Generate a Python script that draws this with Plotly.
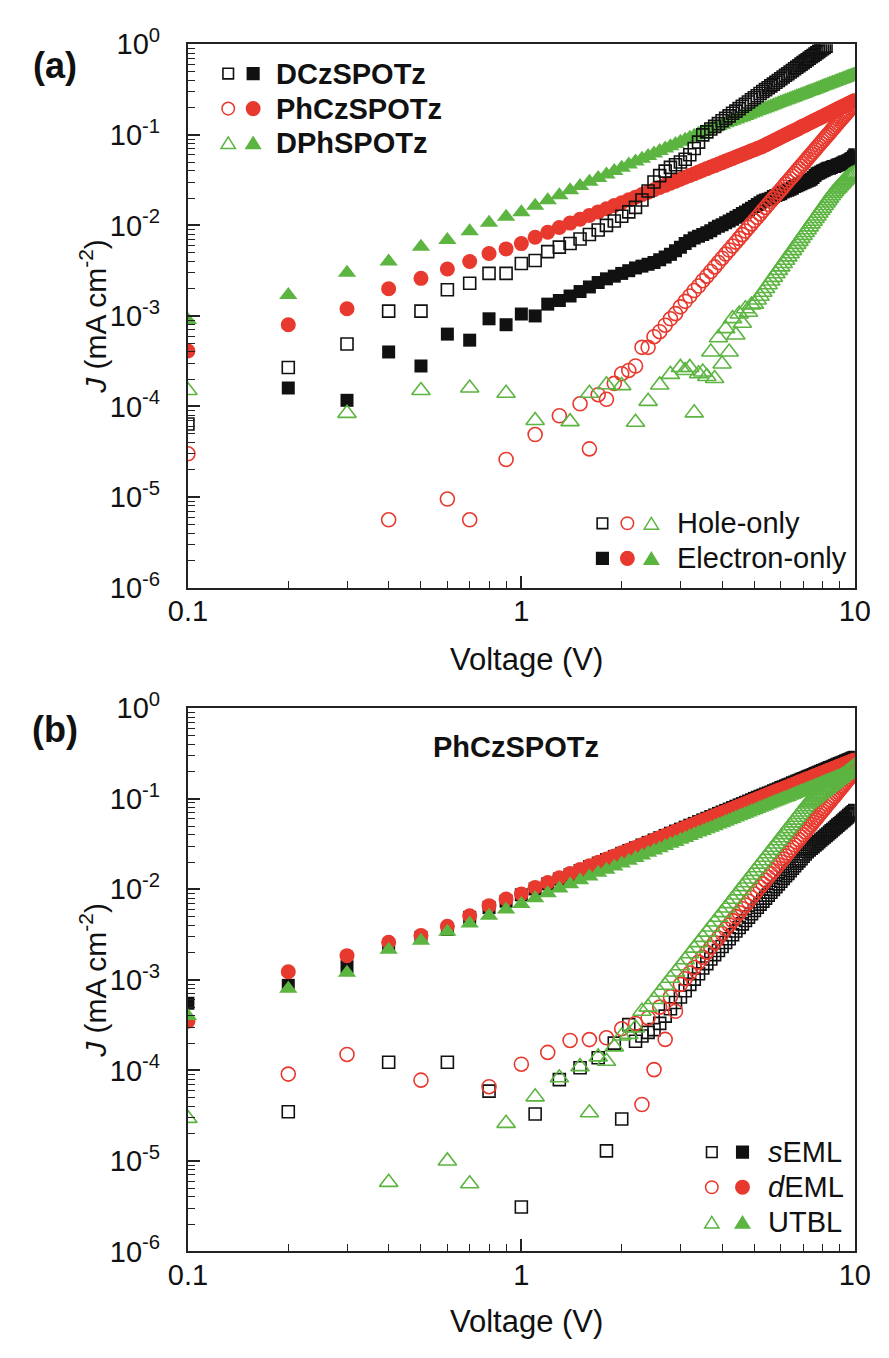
import plotly.graph_objects as go

W, H = 889, 1358
FONT = "Liberation Sans, Arial, Helvetica, sans-serif"
BLACK = "#111111"
RED = "#E8392E"
GREEN = "#5CB441"

voltage = [0.1, 0.2, 0.3, 0.4, 0.5, 0.6, 0.7, 0.8, 0.9, 1.0,
           1.1, 1.2, 1.3, 1.4, 1.5, 1.6, 1.7, 1.8, 1.9, 2.0,
           2.1, 2.2, 2.3, 2.4, 2.5, 2.6, 2.7, 2.8, 2.9, 3.0,
           3.1, 3.2, 3.3, 3.4, 3.5, 3.6, 3.7, 3.8, 3.9, 4.0,
           4.1, 4.2, 4.3, 4.4, 4.5, 4.6, 4.7, 4.8, 4.9, 5.0,
           5.1, 5.2, 5.3, 5.4, 5.5, 5.6, 5.7, 5.8, 5.9, 6.0,
           6.1, 6.2, 6.3, 6.4, 6.5, 6.6, 6.7, 6.8, 6.9, 7.0,
           7.1, 7.2, 7.3, 7.4, 7.5, 7.6, 7.7, 7.8, 7.9, 8.0,
           8.1, 8.2, 8.3, 8.4, 8.5, 8.6, 8.7, 8.8, 8.9, 9.0,
           9.1, 9.2, 9.3, 9.4, 9.5, 9.6, 9.7, 9.8, 9.9, 10.0]

N = None

# ---------------- Panel (a) ----------------
a_dcz_hole = [6.4e-5, 2.7e-4, 4.9e-4, 1.13e-3, 1.13e-3, 1.95e-3, 2.3e-3, 2.95e-3, 2.95e-3, 3.8e-3,
              4.1e-3, 5.13e-3, 5.75e-3, 6.31e-3, 7.08e-3, 7.94e-3, 8.91e-3, 1.0e-2, 1.12e-2, 1.26e-2,
              1.41e-2, 1.58e-2, 1.91e-2, 2.40e-2, 3.02e-2, 3.55e-2, 3.98e-2, 4.37e-2, 4.68e-2, 5.01e-2,
              5.37e-2, 6.03e-2, 7.08e-2, 8.32e-2, 0.100, 0.108, 0.116, 0.124, 0.133, 0.143,
              0.152, 0.162, 0.173, 0.183, 0.195, 0.207, 0.218, 0.231, 0.244, 0.257,
              0.271, 0.286, 0.301, 0.316, 0.331, 0.348, 0.364, 0.381, 0.399, 0.417,
              0.436, 0.455, 0.474, 0.495, 0.515, 0.537, 0.558, 0.581, 0.604, 0.628,
              0.652, 0.676, 0.701, 0.728, 0.753, 0.780, 0.807, 0.836, 0.865, 0.893,
              0.925, 0.955, N, N, N, N, N, N, N, N,
              N, N, N, N, N, N, N, N, N, N]

a_dcz_elec = [N, 1.6e-4, 1.17e-4, 4.0e-4, 2.8e-4, 6.3e-4, 5.4e-4, 9.3e-4, 8.0e-4, 1.05e-3,
              1.0e-3, 1.35e-3, 1.48e-3, 1.66e-3, 1.86e-3, 2.09e-3, 2.34e-3, 2.57e-3, 2.75e-3, 2.95e-3,
              3.16e-3, 3.39e-3, 3.55e-3, 3.72e-3, 3.89e-3, 4.17e-3, 4.47e-3, 4.79e-3, 5.25e-3, 5.75e-3,
              6.31e-3, 6.76e-3, 7.24e-3, 7.59e-3, 7.94e-3, 8.32e-3, 8.71e-3, 9.33e-3, 9.77e-3, 1.02e-2,
              1.07e-2, 1.12e-2, 1.17e-2, 1.23e-2, 1.29e-2, 1.35e-2, 1.41e-2, 1.48e-2, 1.55e-2, 1.62e-2,
              1.70e-2, 1.78e-2, 1.86e-2, 1.91e-2, 1.95e-2, 2.00e-2, 2.09e-2, 2.14e-2, 2.19e-2, 2.24e-2,
              2.34e-2, 2.40e-2, 2.45e-2, 2.51e-2, 2.57e-2, 2.69e-2, 2.75e-2, 2.82e-2, 2.88e-2, 2.95e-2,
              3.02e-2, 3.09e-2, 3.16e-2, 3.24e-2, 3.39e-2, 3.55e-2, 3.72e-2, 3.80e-2, 3.89e-2, 3.98e-2,
              4.07e-2, 4.17e-2, 4.27e-2, 4.27e-2, 4.37e-2, 4.47e-2, 4.47e-2, 4.57e-2, 4.68e-2, 4.68e-2,
              4.79e-2, 4.90e-2, 5.01e-2, 5.01e-2, 5.13e-2, 5.25e-2, 5.37e-2, 5.50e-2, 5.75e-2, 6.03e-2]

a_phcz_hole = [3.0e-5, N, N, 5.6e-6, N, 9.5e-6, 5.6e-6, N, 2.6e-5, N,
               4.9e-5, N, 7.9e-5, N, 1.07e-4, 3.4e-5, 1.35e-4, 1.2e-4, 1.8e-4, 2.3e-4,
               2.5e-4, 2.8e-4, 4.5e-4, 4.5e-4, 5.9e-4, 6.7e-4, 7.9e-4, 9.3e-4, 1.06e-3, 1.26e-3,
               1.45e-3, 1.66e-3, 1.91e-3, 2.14e-3, 2.45e-3, 2.75e-3, 3.10e-3, 3.48e-3, 3.89e-3, 4.34e-3,
               4.82e-3, 5.35e-3, 5.92e-3, 6.53e-3, 7.19e-3, 7.91e-3, 8.67e-3, 9.51e-3, 1.04e-2, 1.13e-2,
               1.23e-2, 1.34e-2, 1.46e-2, 1.58e-2, 1.71e-2, 1.85e-2, 1.99e-2, 2.14e-2, 2.31e-2, 2.48e-2,
               2.66e-2, 2.86e-2, 3.05e-2, 3.27e-2, 3.50e-2, 3.73e-2, 3.99e-2, 4.25e-2, 4.52e-2, 4.81e-2,
               5.12e-2, 5.43e-2, 5.77e-2, 6.11e-2, 6.47e-2, 6.85e-2, 7.24e-2, 7.67e-2, 8.09e-2, 8.55e-2,
               9.02e-2, 9.51e-2, 0.100, 0.105, 0.111, 0.117, 0.122, 0.129, 0.135, 0.142,
               0.149, 0.156, 0.163, 0.171, 0.179, 0.187, 0.196, 0.205, 0.214, 0.223]

a_phcz_elec = [4.1e-4, 8.0e-4, 1.2e-3, 2.0e-3, 2.6e-3, 3.3e-3, 4.0e-3, 4.9e-3, 5.5e-3, 6.3e-3,
               7.4e-3, 8.41e-3, 9.47e-3, 1.06e-2, 1.17e-2, 1.29e-2, 1.41e-2, 1.53e-2, 1.66e-2, 1.78e-2,
               1.92e-2, 2.05e-2, 2.19e-2, 2.33e-2, 2.48e-2, 2.62e-2, 2.77e-2, 2.92e-2, 3.08e-2, 3.24e-2,
               3.40e-2, 3.56e-2, 3.72e-2, 3.89e-2, 4.06e-2, 4.24e-2, 4.41e-2, 4.58e-2, 4.76e-2, 4.94e-2,
               5.13e-2, 5.31e-2, 5.50e-2, 5.69e-2, 5.87e-2, 6.07e-2, 6.27e-2, 6.46e-2, 6.67e-2, 6.86e-2,
               7.06e-2, 7.26e-2, 7.50e-2, 7.76e-2, 8.02e-2, 8.30e-2, 8.57e-2, 8.85e-2, 9.12e-2, 9.42e-2,
               9.70e-2, 0.100, 0.103, 0.106, 0.109, 0.112, 0.115, 0.118, 0.122, 0.125,
               0.128, 0.131, 0.135, 0.138, 0.142, 0.145, 0.149, 0.152, 0.156, 0.159,
               0.163, 0.167, 0.170, 0.174, 0.178, 0.182, 0.186, 0.190, 0.194, 0.198,
               0.202, 0.206, 0.210, 0.214, 0.218, 0.222, 0.227, 0.231, 0.235, 0.240]

a_dph_hole = [1.5e-4, N, 8.4e-5, N, 1.5e-4, N, 1.6e-4, N, 1.4e-4, N,
              7.0e-5, N, N, 6.8e-5, N, 1.4e-4, N, 1.74e-4, N, 1.7e-4,
              N, 6.7e-5, N, 1.14e-4, N, 1.73e-4, N, 2.26e-4, N, 2.7e-4,
              2.5e-4, 2.7e-4, 8.5e-5, 2.3e-4, 2.4e-4, 2.14e-4, 4.0e-4, 2.04e-4, 5.75e-4, 2.95e-4,
              7.24e-4, 4.0e-4, 9.33e-4, 6.17e-4, 1.05e-3, 8.32e-4, 1.20e-3, 1.10e-3, 1.32e-3, 1.35e-3,
              1.50e-3, 1.65e-3, 1.83e-3, 2.01e-3, 2.21e-3, 2.43e-3, 2.67e-3, 2.92e-3, 3.19e-3, 3.48e-3,
              3.79e-3, 4.13e-3, 4.49e-3, 4.86e-3, 5.27e-3, 5.71e-3, 6.18e-3, 6.67e-3, 7.19e-3, 7.76e-3,
              8.36e-3, 8.97e-3, 9.64e-3, 1.04e-2, 1.11e-2, 1.19e-2, 1.27e-2, 1.36e-2, 1.46e-2, 1.55e-2,
              1.66e-2, 1.77e-2, 1.88e-2, 2.00e-2, 2.13e-2, 2.26e-2, 2.37e-2, 2.49e-2, 2.60e-2, 2.72e-2,
              2.84e-2, 2.97e-2, 3.10e-2, 3.22e-2, 3.34e-2, 3.46e-2, 3.55e-2, 3.63e-2, 3.70e-2, 3.76e-2]

a_dph_elec = [9.0e-4, 1.7e-3, 3.0e-3, 4.0e-3, 5.8e-3, 6.9e-3, 8.6e-3, 1.07e-2, 1.25e-2, 1.40e-2,
              1.65e-2, 1.90e-2, 2.16e-2, 2.44e-2, 2.72e-2, 3.03e-2, 3.33e-2, 3.66e-2, 4.00e-2, 4.34e-2,
              4.70e-2, 5.07e-2, 5.45e-2, 5.83e-2, 6.23e-2, 6.64e-2, 7.06e-2, 7.48e-2, 7.93e-2, 8.38e-2,
              8.83e-2, 9.29e-2, 9.77e-2, 0.103, 0.107, 0.112, 0.116, 0.121, 0.125, 0.129,
              0.134, 0.139, 0.143, 0.148, 0.153, 0.157, 0.162, 0.167, 0.172, 0.177,
              0.182, 0.187, 0.192, 0.197, 0.202, 0.207, 0.213, 0.218, 0.223, 0.229,
              0.234, 0.239, 0.244, 0.250, 0.255, 0.261, 0.267, 0.272, 0.278, 0.283,
              0.289, 0.295, 0.301, 0.306, 0.312, 0.318, 0.324, 0.330, 0.336, 0.342,
              0.348, 0.354, 0.360, 0.366, 0.372, 0.378, 0.384, 0.390, 0.397, 0.403,
              0.409, 0.415, 0.422, 0.428, 0.435, 0.441, 0.448, 0.454, 0.460, 0.467]

# ---------------- Panel (b) ----------------
b_seml_hole = [N, 3.5e-5, N, 1.23e-4, N, 1.23e-4, N, 5.9e-5, N, 3.1e-6,
               3.3e-5, N, 7.9e-5, N, 1.07e-4, N, 1.38e-4, 1.29e-5, 2.0e-4, 2.9e-5,
               3.2e-4, 2.1e-4, 2.40e-4, 2.63e-4, 2.82e-4, 3.31e-4, 3.98e-4, 4.79e-4, 5.62e-4, 6.46e-4,
               7.59e-4, 8.91e-4, 1.02e-3, 1.17e-3, 1.35e-3, 1.51e-3, 1.70e-3, 1.90e-3, 2.11e-3, 2.34e-3,
               2.59e-3, 2.85e-3, 3.15e-3, 3.46e-3, 3.79e-3, 4.15e-3, 4.53e-3, 4.93e-3, 5.37e-3, 5.84e-3,
               6.33e-3, 6.86e-3, 7.41e-3, 8.00e-3, 8.63e-3, 9.29e-3, 1.00e-2, 1.07e-2, 1.15e-2, 1.23e-2,
               1.32e-2, 1.41e-2, 1.50e-2, 1.61e-2, 1.71e-2, 1.82e-2, 1.94e-2, 2.06e-2, 2.18e-2, 2.32e-2,
               2.46e-2, 2.60e-2, 2.72e-2, 2.84e-2, 2.96e-2, 3.09e-2, 3.22e-2, 3.36e-2, 3.50e-2, 3.64e-2,
               3.78e-2, 3.94e-2, 4.09e-2, 4.26e-2, 4.42e-2, 4.58e-2, 4.75e-2, 4.93e-2, 5.12e-2, 5.30e-2,
               5.48e-2, 5.69e-2, 5.89e-2, 6.08e-2, 6.30e-2, 6.52e-2, 6.73e-2, 6.95e-2, 7.18e-2, 7.41e-2]

b_seml_elec = [5.5e-4, 8.7e-4, 1.4e-3, 2.4e-3, 2.95e-3, 3.6e-3, 4.9e-3, 6.3e-3, 7.4e-3, 8.7e-3,
               1.01e-2, 1.15e-2, 1.30e-2, 1.45e-2, 1.61e-2, 1.78e-2, 1.95e-2, 2.13e-2, 2.31e-2, 2.50e-2,
               2.69e-2, 2.88e-2, 3.09e-2, 3.30e-2, 3.51e-2, 3.72e-2, 3.94e-2, 4.17e-2, 4.40e-2, 4.62e-2,
               4.86e-2, 5.11e-2, 5.35e-2, 5.60e-2, 5.85e-2, 6.10e-2, 6.37e-2, 6.62e-2, 6.90e-2, 7.16e-2,
               7.44e-2, 7.71e-2, 8.00e-2, 8.28e-2, 8.57e-2, 8.86e-2, 9.15e-2, 9.45e-2, 9.75e-2, 0.101,
               0.104, 0.107, 0.110, 0.113, 0.116, 0.119, 0.123, 0.126, 0.129, 0.133,
               0.136, 0.139, 0.143, 0.146, 0.150, 0.153, 0.157, 0.160, 0.164, 0.168,
               0.171, 0.175, 0.179, 0.182, 0.186, 0.190, 0.194, 0.198, 0.202, 0.205,
               0.209, 0.213, 0.217, 0.221, 0.225, 0.229, 0.233, 0.237, 0.242, 0.246,
               0.250, 0.254, 0.258, 0.263, 0.267, 0.271, 0.275, 0.280, 0.284, 0.288]

b_deml_hole = [N, 9.1e-5, 1.5e-4, N, 7.8e-5, N, N, 6.6e-5, N, 1.17e-4,
               N, 1.58e-4, N, 2.14e-4, N, 2.19e-4, N, 2.29e-4, N, 2.88e-4,
               N, 3.3e-4, 4.2e-5, 3.8e-4, 1.02e-4, 5.0e-4, 2.2e-4, 6.5e-4, 4.5e-4, 8.91e-4,
               1.03e-3, 1.19e-3, 1.37e-3, 1.57e-3, 1.78e-3, 2.02e-3, 2.29e-3, 2.58e-3, 2.90e-3, 3.25e-3,
               3.64e-3, 4.05e-3, 4.51e-3, 5.00e-3, 5.52e-3, 6.11e-3, 6.72e-3, 7.38e-3, 8.11e-3, 8.89e-3,
               9.70e-3, 1.06e-2, 1.15e-2, 1.26e-2, 1.36e-2, 1.48e-2, 1.60e-2, 1.73e-2, 1.87e-2, 2.02e-2,
               2.17e-2, 2.34e-2, 2.51e-2, 2.70e-2, 2.89e-2, 3.10e-2, 3.32e-2, 3.54e-2, 3.78e-2, 4.04e-2,
               4.31e-2, 4.58e-2, 4.88e-2, 5.18e-2, 5.51e-2, 5.85e-2, 6.19e-2, 6.57e-2, 6.95e-2, 7.36e-2,
               7.78e-2, 8.22e-2, 8.69e-2, 9.16e-2, 9.66e-2, 0.102, 0.107, 0.113, 0.119, 0.125,
               0.132, 0.138, 0.145, 0.152, 0.160, 0.167, 0.175, 0.183, 0.192, 0.201]

b_deml_elec = [3.5e-4, 1.23e-3, 1.85e-3, 2.6e-3, 3.1e-3, 3.9e-3, 5.1e-3, 6.6e-3, 7.8e-3, 8.9e-3,
               1.05e-2, 1.19e-2, 1.34e-2, 1.50e-2, 1.66e-2, 1.82e-2, 1.99e-2, 2.16e-2, 2.34e-2, 2.53e-2,
               2.72e-2, 2.90e-2, 3.10e-2, 3.30e-2, 3.51e-2, 3.72e-2, 3.93e-2, 4.14e-2, 4.36e-2, 4.58e-2,
               4.81e-2, 5.04e-2, 5.27e-2, 5.51e-2, 5.75e-2, 6.00e-2, 6.24e-2, 6.49e-2, 6.75e-2, 7.00e-2,
               7.26e-2, 7.52e-2, 7.78e-2, 8.05e-2, 8.32e-2, 8.60e-2, 8.87e-2, 9.14e-2, 9.44e-2, 9.72e-2,
               0.100, 0.103, 0.106, 0.109, 0.112, 0.115, 0.118, 0.121, 0.124, 0.127,
               0.130, 0.133, 0.136, 0.140, 0.143, 0.146, 0.149, 0.153, 0.156, 0.159,
               0.163, 0.166, 0.169, 0.173, 0.176, 0.180, 0.183, 0.187, 0.190, 0.194,
               0.197, 0.201, 0.205, 0.208, 0.212, 0.216, 0.219, 0.223, 0.227, 0.231,
               0.234, 0.238, 0.242, 0.246, 0.249, 0.254, 0.257, 0.261, 0.265, 0.269]

b_utbl_hole = [2.95e-5, N, N, 5.8e-6, N, 1.0e-5, 5.6e-6, N, 2.6e-5, N,
               5.1e-5, N, 8.3e-5, N, 1.1e-4, 3.4e-5, 1.41e-4, 1.26e-4, 1.82e-4, 2.4e-4,
               2.5e-4, 2.95e-4, 4.5e-4, 5.0e-4, 6.07e-4, 7.31e-4, 8.73e-4, 1.04e-3, 1.22e-3, 1.43e-3,
               1.67e-3, 1.94e-3, 2.24e-3, 2.58e-3, 2.95e-3, 3.37e-3, 3.84e-3, 4.35e-3, 4.91e-3, 5.53e-3,
               6.21e-3, 6.95e-3, 7.76e-3, 8.66e-3, 9.62e-3, 1.07e-2, 1.18e-2, 1.30e-2, 1.44e-2, 1.58e-2,
               1.73e-2, 1.90e-2, 2.07e-2, 2.26e-2, 2.47e-2, 2.69e-2, 2.92e-2, 3.17e-2, 3.44e-2, 3.72e-2,
               4.02e-2, 4.34e-2, 4.68e-2, 5.04e-2, 5.42e-2, 5.82e-2, 6.25e-2, 6.70e-2, 7.16e-2, 7.67e-2,
               8.20e-2, 8.75e-2, 9.12e-2, 9.48e-2, 9.86e-2, 0.103, 0.107, 0.111, 0.115, 0.119,
               0.124, 0.128, 0.133, 0.137, 0.142, 0.147, 0.152, 0.158, 0.163, 0.168,
               0.174, 0.180, 0.185, 0.191, 0.197, 0.203, 0.209, 0.216, 0.222, 0.229]

b_utbl_elec = [4.0e-4, 8.0e-4, 1.2e-3, 2.15e-3, 2.7e-3, 3.4e-3, 4.2e-3, 5.1e-3, 6.0e-3, 6.9e-3,
               7.97e-3, 9.06e-3, 1.02e-2, 1.14e-2, 1.26e-2, 1.39e-2, 1.52e-2, 1.65e-2, 1.79e-2, 1.93e-2,
               2.07e-2, 2.22e-2, 2.37e-2, 2.53e-2, 2.69e-2, 2.85e-2, 3.01e-2, 3.18e-2, 3.34e-2, 3.52e-2,
               3.69e-2, 3.87e-2, 4.05e-2, 4.24e-2, 4.42e-2, 4.61e-2, 4.80e-2, 4.99e-2, 5.19e-2, 5.38e-2,
               5.58e-2, 5.78e-2, 5.99e-2, 6.20e-2, 6.41e-2, 6.62e-2, 6.83e-2, 7.05e-2, 7.27e-2, 7.49e-2,
               7.71e-2, 7.94e-2, 8.17e-2, 8.39e-2, 8.63e-2, 8.86e-2, 9.09e-2, 9.33e-2, 9.57e-2, 9.81e-2,
               0.101, 0.103, 0.105, 0.108, 0.110, 0.113, 0.116, 0.118, 0.121, 0.123,
               0.126, 0.128, 0.131, 0.134, 0.136, 0.139, 0.142, 0.145, 0.147, 0.150,
               0.153, 0.156, 0.159, 0.161, 0.164, 0.167, 0.170, 0.173, 0.176, 0.179,
               0.182, 0.185, 0.188, 0.191, 0.194, 0.197, 0.200, 0.203, 0.206, 0.209]

# ---------------- Axes ticks ----------------
x_tickvals = [0.1, 1, 10]
x_ticktext = ["0.1", "1", "10"]
x_minor = [0.2, 0.3, 0.4, 0.5, 0.6, 0.7, 0.8, 0.9, 2, 3, 4, 5, 6, 7, 8, 9]
y_tickvals = [1e-6, 1e-5, 1e-4, 1e-3, 1e-2, 1e-1, 1]
y_ticktext = ["10<sup>-6</sup>", "10<sup>-5</sup>", "10<sup>-4</sup>", "10<sup>-3</sup>",
              "10<sup>-2</sup>", "10<sup>-1</sup>", "10<sup>0</sup>"]
y_minor = [m * d for d in [1e-6, 1e-5, 1e-4, 1e-3, 1e-2, 1e-1] for m in range(2, 10)]

legend_a_top = ["DCzSPOTz", "PhCzSPOTz", "DPhSPOTz"]
legend_a_bottom = ["Hole-only", "Electron-only"]
legend_b = ["<i>s</i>EML", "<i>d</i>EML", "UTBL"]

fig = go.Figure()


def add(y, xa, ya, symbol, color, size, lw, name):
    fig.add_trace(go.Scatter(
        x=voltage, y=y, mode="markers", xaxis=xa, yaxis=ya, name=name,
        showlegend=False,
        marker=dict(symbol=symbol, color=color, size=size,
                    line=dict(color=color, width=lw))))


# panel (a): filled first, then open
add(a_dcz_elec, "x", "y", "square", BLACK, 13, 0, "DCzSPOTz electron")
add(a_phcz_elec, "x", "y", "circle", RED, 15, 0, "PhCzSPOTz electron")
add(a_dph_elec, "x", "y", "triangle-up", GREEN, 16, 0, "DPhSPOTz electron")
add(a_dcz_hole, "x", "y", "square-open", BLACK, 12, 1.6, "DCzSPOTz hole")
add(a_phcz_hole, "x", "y", "circle-open", RED, 14, 1.6, "PhCzSPOTz hole")
add(a_dph_hole, "x", "y", "triangle-up-open", GREEN, 16, 1.6, "DPhSPOTz hole")

# panel (b)
add(b_seml_elec, "x2", "y2", "square", BLACK, 13, 0, "sEML electron")
add(b_deml_elec, "x2", "y2", "circle", RED, 15, 0, "dEML electron")
add(b_utbl_elec, "x2", "y2", "triangle-up", GREEN, 16, 0, "UTBL electron")
add(b_seml_hole, "x2", "y2", "square-open", BLACK, 12, 1.6, "sEML hole")
add(b_deml_hole, "x2", "y2", "circle-open", RED, 14, 1.6, "dEML hole")
add(b_utbl_hole, "x2", "y2", "triangle-up-open", GREEN, 16, 1.6, "UTBL hole")

AX = "#222222"


def xaxis(anchor):
    return dict(type="log", range=[-1, 1], domain=[175 / W, 870 / W], anchor=anchor,
                showline=True, linecolor=AX, linewidth=2, mirror=True,
                ticks="inside", ticklen=12, tickwidth=1.6, tickcolor=AX,
                tickvals=x_tickvals, ticktext=x_ticktext,
                minor=dict(tickvals=x_minor, ticks="inside", ticklen=7, tickwidth=1.4, tickcolor=AX),
                showgrid=False, zeroline=False, ticklabelstandoff=-3,
                tickfont=dict(family=FONT, size=29, color="#111111"))


def yaxis(anchor, top_px, bottom_px):
    return dict(type="log", range=[-6, 0], domain=[1 - bottom_px / H, 1 - top_px / H], anchor=anchor,
                showline=True, linecolor=AX, linewidth=2, mirror=True,
                ticks="inside", ticklen=12, tickwidth=1.6, tickcolor=AX,
                tickvals=y_tickvals, ticktext=y_ticktext,
                minor=dict(tickvals=y_minor, ticks="inside", ticklen=7, tickwidth=1.4, tickcolor=AX),
                showgrid=False, zeroline=False, ticklabelstandoff=20,
                tickfont=dict(family=FONT, size=29, color="#111111"))


fig.update_layout(
    width=W, height=H, margin=dict(l=0, r=0, t=0, b=0),
    paper_bgcolor="white", plot_bgcolor="white", showlegend=False,
    xaxis=xaxis("y"), yaxis=yaxis("x", 25, 583),
    xaxis2=xaxis("y2"), yaxis2=yaxis("x2", 707, 1265),
)

ann = []
shapes = []


def text(px, py, s, size, bold=False, xanchor="left", angle=0):
    ann.append(dict(x=px / W, y=1 - py / H, xref="paper", yref="paper", text=s,
                    showarrow=False, xanchor=xanchor, yanchor="middle", textangle=angle,
                    font=dict(family=FONT, size=size, color="#111111",
                              weight="bold" if bold else "normal")))


def sq(cx, cy, s, color, filled):
    shapes.append(dict(type="rect", xref="paper", yref="paper",
                       x0=(cx - s / 2) / W, x1=(cx + s / 2) / W,
                       y0=1 - (cy + s / 2) / H, y1=1 - (cy - s / 2) / H,
                       line=dict(color=color, width=1.6),
                       fillcolor=color if filled else "rgba(0,0,0,0)"))


def circ(cx, cy, d, color, filled):
    shapes.append(dict(type="circle", xref="paper", yref="paper",
                       x0=(cx - d / 2) / W, x1=(cx + d / 2) / W,
                       y0=1 - (cy + d / 2) / H, y1=1 - (cy - d / 2) / H,
                       line=dict(color=color, width=1.5),
                       fillcolor=color if filled else "rgba(0,0,0,0)"))


def tri(cx, cy, w, h, color, filled):
    x0, x1, xm = (cx - w / 2) / W, (cx + w / 2) / W, cx / W
    yb, yt = 1 - (cy + h / 2) / H, 1 - (cy - h / 2) / H
    shapes.append(dict(type="path", xref="paper", yref="paper",
                       path=f"M {x0} {yb} L {x1} {yb} L {xm} {yt} Z",
                       line=dict(color=color, width=1.5),
                       fillcolor=color if filled else "rgba(0,0,0,0)"))


# panel labels
text(36, 47, "(a)", 36, bold=True, xanchor="center")
text(36, 729, "(b)", 36, bold=True, xanchor="center")

# axis titles
for cy in (304, 986):
    text(76, cy, "<i>J</i> (mA cm<sup>-2</sup>)", 30, xanchor="center", angle=-90)
text(528, 657, "Voltage (V)", 31, xanchor="center")
text(528, 1337, "Voltage (V)", 31, xanchor="center")

# legend (a) top-left
rows = [55, 91, 126]
sq(217, rows[0], 11, BLACK, False)
sq(243, rows[0], 12, BLACK, True)
circ(217, rows[1], 13, RED, False)
circ(243, rows[1], 14, RED, True)
tri(217, rows[2], 15, 12, GREEN, False)
tri(243, rows[2], 15, 12, GREEN, True)
for r, name in zip(rows, legend_a_top):
    text(265, r, name, 29, bold=True)

# legend (a) bottom-right
rb = [517, 553]
sq(607, rb[0], 11, BLACK, False)
circ(633, rb[0], 13, RED, False)
tri(658, rb[0], 15, 12, GREEN, False)
sq(607, rb[1], 12, BLACK, True)
circ(633, rb[1], 14, RED, True)
tri(658, rb[1], 15, 12, GREEN, True)
for r, name in zip(rb, legend_a_bottom):
    text(683, r, name, 29)

# panel (b) title
text(517, 747, "PhCzSPOTz", 29, bold=True, xanchor="center")

# legend (b)
rl = [1163, 1199, 1235]
sq(721, rl[0], 11, BLACK, False)
sq(753, rl[0], 12, BLACK, True)
circ(721, rl[1], 13, RED, False)
circ(753, rl[1], 14, RED, True)
tri(721, rl[2], 15, 12, GREEN, False)
tri(753, rl[2], 15, 12, GREEN, True)
for r, name in zip(rl, legend_b):
    text(778, r, name, 29)

fig.update_layout(annotations=ann, shapes=shapes)
fig.write_html("out.html")
